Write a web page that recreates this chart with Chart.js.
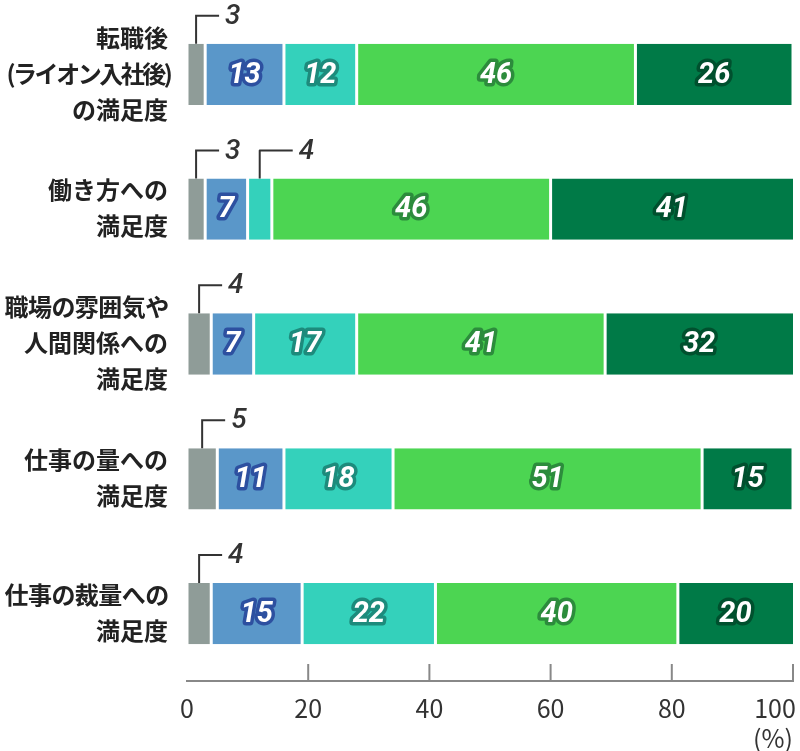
<!DOCTYPE html>
<html lang="ja">
<head>
<meta charset="utf-8">
<script src="https://cdn.jsdelivr.net/npm/chart.js@4"></script>
<style>
  html, body { margin: 0; padding: 0; background: #fff; }
  #caixa { width: 800px; height: 751px; position: relative; }
</style>
</head>
<body>
<div id="caixa"><canvas id="grafico"></canvas></div>
<script>
// dados
const categorias = [
  ['転職後', '(ライオン入社後)', 'の満足度'],
  ['働き方への', '満足度'],
  ['職場の雰囲気や', '人間関係への', '満足度'],
  ['仕事の量への', '満足度'],
  ['仕事の裁量への', '満足度']
];
const niveis = ['不満', 'やや不満', 'どちらともいえない', 'やや満足', '満足'];
const valoresNivel1 = [3, 3, 4, 5, 4];
const valoresNivel2 = [13, 7, 7, 11, 15];
const valoresNivel3 = [12, 4, 17, 18, 22];
const valoresNivel4 = [46, 46, 41, 51, 40];
const valoresNivel5 = [26, 41, 32, 15, 20];
const ticksX = [0, 20, 40, 60, 80, 100];

const cores = ['#8f9c98', '#5a97c9', '#34d1bb', '#4cd552', '#007a47'];
const contornos = ['#5f6b67', '#2d50a0', '#1d8b7c', '#2c8c3c', '#00502e'];
const fonteJP = '"Noto Sans CJK JP", "Noto Sans", sans-serif';
const larguraMax = 164;

const series = [valoresNivel1, valoresNivel2, valoresNivel3, valoresNivel4, valoresNivel5];

const rotulos = {
  id: 'rotulos',
  afterDatasetsDraw(chart) {
    const ctx = chart.ctx;
    const area = chart.chartArea;
    const chamadas = categorias.map(() => 0);
    ctx.save();
    chart.data.datasets.forEach((ds, d) => {
      const meta = chart.getDatasetMeta(d);
      meta.data.forEach((bar, i) => {
        const v = ds.data[i];
        const x0 = Math.max(bar.base, area.left);
        const x1 = Math.min(bar.x, area.right);
        const cx = (x0 + x1) / 2;
        if (v < 6) {
          // valor pequeno: linha de chamada acima da barra
          const topo = bar.y - bar.height / 2;
          const yl = topo - 28;
          const len = chamadas[i] === 0 ? 23 : 33;
          chamadas[i]++;
          ctx.strokeStyle = '#333';
          ctx.lineWidth = 2;
          ctx.beginPath();
          ctx.moveTo(cx, topo);
          ctx.lineTo(cx, yl);
          ctx.lineTo(cx + len, yl);
          ctx.stroke();
          ctx.font = 'italic 500 28px Roboto, sans-serif';
          ctx.fillStyle = '#333';
          ctx.textAlign = 'left';
          ctx.textBaseline = 'middle';
          ctx.fillText(String(v), cx + len + 6, yl + 1);
        } else {
          ctx.font = 'italic 700 29px Roboto, sans-serif';
          ctx.textAlign = 'center';
          ctx.textBaseline = 'middle';
          ctx.lineJoin = 'round';
          ctx.lineWidth = 7;
          ctx.strokeStyle = contornos[d];
          ctx.strokeText(String(v), cx, bar.y + 1);
          ctx.fillStyle = '#fff';
          ctx.fillText(String(v), cx, bar.y + 1);
        }
      });
    });
    ctx.restore();
  },
  afterDraw(chart) {
    const ctx = chart.ctx;
    const xs = chart.scales.x;
    const ys = chart.scales.y;
    const area = chart.chartArea;
    ctx.save();
    ctx.strokeStyle = '#888';
    ctx.lineWidth = 2;
    ticksX.forEach(v => {
      if (v === 0) return;
      const x = xs.getPixelForValue(v);
      ctx.beginPath();
      ctx.moveTo(x, area.bottom - 17);
      ctx.lineTo(x, area.bottom);
      ctx.stroke();
    });
    // o último rótulo e a unidade
    ctx.font = '25px ' + fonteJP;
    ctx.fillStyle = '#333';
    ctx.textAlign = 'center';
    ctx.textBaseline = 'middle';
    const xu = xs.getPixelForValue(ticksX[ticksX.length - 1]) - 18;
    ctx.fillText(String(ticksX[ticksX.length - 1]), xu, area.bottom + 27);
    ctx.fillText('(%)', xu - 2, area.bottom + 57);

    // categorias, linha por linha (apertando as que não cabem)
    ctx.font = 'bold 24px ' + fonteJP;
    ctx.fillStyle = '#222';
    ctx.textAlign = 'right';
    categorias.forEach((linhas, i) => {
      const yc = ys.getPixelForValue(i) - 1;
      linhas.forEach((t, j) => {
        const y = yc + (j - (linhas.length - 1) / 2) * 36;
        ctx.letterSpacing = '0px';
        const w = ctx.measureText(t).width;
        let dx = 0;
        if (w > larguraMax) {
          const esp = (w - larguraMax) / t.length;
          ctx.letterSpacing = (-esp) + 'px';
          dx = esp;
        }
        ctx.fillText(t, area.left - 19 + dx, y);
      });
    });
    ctx.restore();
  }
};

const ctx = document.getElementById('grafico').getContext('2d');
const chart = new Chart(ctx, {
  type: 'bar',
  data: {
    labels: categorias,
    datasets: series.map((dados, k) => ({
      label: niveis[k],
      data: dados,
      backgroundColor: cores[k],
      borderColor: '#fff',
      borderWidth: { left: 1.5, right: 1.5, top: 0, bottom: 0 },
      borderSkipped: false,
      barPercentage: 0.455,
      categoryPercentage: 1
    }))
  },
  options: {
    indexAxis: 'y',
    responsive: true,
    maintainAspectRatio: false,
    animation: false,
    layout: { padding: { top: 7, right: 7, left: 0, bottom: 0 } },
    plugins: {
      legend: { display: false },
      tooltip: { enabled: false }
    },
    scales: {
      x: {
        stacked: true,
        min: 0,
        max: 100,
        grid: { display: false, drawTicks: false },
        border: { display: true, color: '#888', width: 2 },
        afterBuildTicks: (s) => { s.ticks = ticksX.map(v => ({ value: v })); },
        ticks: {
          padding: 12,
          color: '#333',
          maxRotation: 0,
          autoSkip: false,
          font: { family: fonteJP, size: 25 },
          callback: (v) => v === 100 ? '' : v
        },
        afterFit: (s) => { s.height = 70; s.paddingLeft = 0; s.paddingRight = 0; }
      },
      y: {
        stacked: true,
        grid: { display: false, drawTicks: false },
        border: { display: false },
        ticks: { display: false },
        afterFit: (s) => { s.width = 187; s.paddingTop = 0; s.paddingBottom = 0; }
      }
    }
  },
  plugins: [rotulos]
});
</script>
</body>
</html>
